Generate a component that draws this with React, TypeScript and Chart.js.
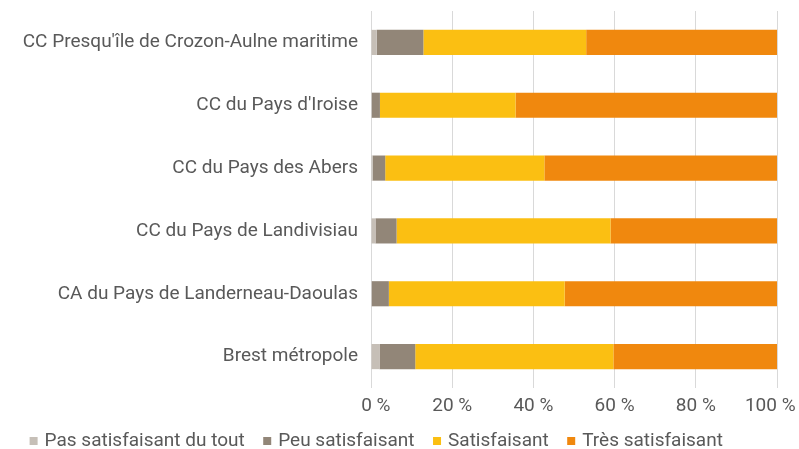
import React, { useEffect, useRef } from "react";
import { Chart, registerables } from "chart.js";

Chart.register(...registerables);

const categories = [
  "CC Presqu'île de Crozon-Aulne maritime",
  "CC du Pays d'Iroise",
  "CC du Pays des Abers",
  "CC du Pays de Landivisiau",
  "CA du Pays de Landerneau-Daoulas",
  "Brest métropole",
];

const pasSatisfaisant = [1.4, 0.2, 0.4, 1.1, 0.2, 2.1];
const peuSatisfaisant = [11.5, 2.0, 3.1, 5.2, 4.2, 8.8];
const satisfaisant = [40.1, 33.4, 39.2, 52.7, 43.3, 48.8];
const tresSatisfaisant = [47.0, 64.4, 57.3, 41.0, 52.3, 40.3];

const seriesNames = ["Pas satisfaisant du tout", "Peu satisfaisant", "Satisfaisant", "Très satisfaisant"];
const seriesColors = ["#C6BFB7", "#928678", "#FBBF12", "#F0880E"];
const xTicks = [0, 20, 40, 60, 80, 100];

const legendShift = {
  id: "legendShift",
  afterLayout(chart: any) {
    const lg = chart.legend;
    if (lg) {
      const h = lg.bottom - lg.top;
      lg.top = 410.5;
      lg.bottom = lg.top + h;
      lg.left -= 11;
      lg.right -= 11;
    }
  },
};

export default function App() {
  const ref = useRef<HTMLCanvasElement | null>(null);
  useEffect(() => {
    if (!ref.current) return;
    const values = [pasSatisfaisant, peuSatisfaisant, satisfaisant, tresSatisfaisant];
    const chart = new Chart(ref.current, {
      type: "bar",
      data: {
        labels: categories,
        datasets: values.map((v, i) => ({
          label: seriesNames[i],
          data: v,
          backgroundColor: seriesColors[i],
          borderWidth: 0,
          barPercentage: 0.4,
          categoryPercentage: 1,
          pointStyle: "rect",
        })),
      },
      options: {
        indexAxis: "y",
        responsive: false,
        animation: false,
        layout: { padding: { top: 11, right: 22, left: 0, bottom: -19 } },
        scales: {
          x: {
            stacked: true,
            min: 0,
            max: 100,
            afterBuildTicks: (s: any) => {
              s.ticks = xTicks.map((v) => ({ value: v }));
            },
            afterFit: (s: any) => {
              s.height = 30;
              s.paddingLeft = 0;
              s.paddingRight = 0;
            },
            ticks: {
              callback: (v: any) =>
                v === 0 ? "\u2002" + v + " %" : v === 100 ? v + " %\u2002\u2009" : v + " %",
              color: "#595959",
              font: { family: "Roboto", size: 19 },
              padding: 7,
              maxRotation: 0,
            },
            grid: { color: "#D9D9D9", lineWidth: 1, drawTicks: false },
            border: { display: false },
          },
          y: {
            stacked: true,
            afterFit: (s: any) => {
              s.width = 371;
              s.paddingTop = 0;
              s.paddingBottom = 0;
            },
            ticks: {
              color: "#595959",
              font: { family: "Roboto", size: 19 },
              padding: 13,
            },
            grid: { display: false, drawTicks: false },
            border: { display: false },
          },
        },
        plugins: {
          legend: {
            position: "bottom",
            labels: {
              usePointStyle: true,
              pointStyle: "rect",
              boxWidth: 3,
              boxHeight: 8,
              padding: 21,
              color: "#595959",
              font: { family: "Roboto", size: 19 },
            },
          },
          tooltip: { enabled: false },
        },
      },
      plugins: [legendShift],
    });
    return () => chart.destroy();
  }, []);
  return (
    <div style={{ position: "fixed", left: 0, top: 0, width: 799, height: 449, background: "#fff" }}>
      <canvas ref={ref} width={799} height={449} style={{ display: "block" }} />
    </div>
  );
}
